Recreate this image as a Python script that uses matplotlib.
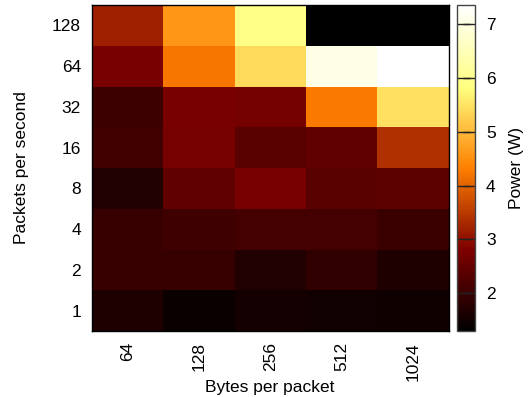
import numpy as np
import matplotlib
matplotlib.use("Agg")
import matplotlib.pyplot as plt

plt.rcParams['font.family'] = ['Liberation Sans', 'DejaVu Sans']

bytes_per_packet = ["64", "128", "256", "512", "1024"]
packets_per_second = ["1", "2", "4", "8", "16", "32", "64", "128"]

# power (W), one row per packets/second value, bottom row first
power_1 = [1.66, 1.42, 1.54, 1.49, 1.47]
power_2 = [1.94, 1.96, 1.68, 1.87, 1.66]
power_4 = [1.94, 2.04, 2.11, 2.11, 1.99]
power_8 = [1.68, 2.46, 2.72, 2.37, 2.39]
power_16 = [2.06, 2.70, 2.37, 2.44, 3.38]
power_32 = [2.01, 2.75, 2.68, 4.26, 5.46]
power_64 = [2.75, 4.23, 5.40, 7.05, 7.35]
power_128 = [3.18, 4.59, 5.94, 1.30, 1.30]

power = np.array([power_1, power_2, power_4, power_8,
                  power_16, power_32, power_64, power_128])

fs = 12.5
fig = plt.figure(figsize=(5.28, 3.97), dpi=100)
ax = fig.add_axes([92 / 528, 1 - 331 / 397, 357 / 528, 326 / 397])
cax = fig.add_axes([457 / 528, 1 - 331 / 397, 18 / 528, 326 / 397])

im = ax.imshow(power, cmap="afmhot", origin="lower", aspect="auto",
               interpolation="nearest", vmin=power.min(), vmax=power.max())

ax.set_xticks(range(len(bytes_per_packet)))
ax.set_xticklabels(bytes_per_packet, rotation=90)
ax.set_yticks(range(len(packets_per_second)))
ax.set_yticklabels(packets_per_second)
ax.tick_params(length=0, labelsize=fs, pad=8)
for s in ax.spines.values():
    s.set_linewidth(1.0)

ax.set_ylabel("Packets per second", fontsize=fs)
ax.yaxis.set_label_coords(-0.176, 0.5)
fig.text(270 / 528, 1 - 392 / 397, "Bytes per packet", fontsize=fs,
         ha="center", va="baseline")

cb = fig.colorbar(im, cax=cax)
cb.set_ticks([2, 3, 4, 5, 6, 7])
cb.ax.tick_params(direction="in", length=9, width=1, left=True, right=True,
                  labelsize=fs, pad=8, color="#222222")
cb.outline.set_linewidth(1.0)
cb.outline.set_edgecolor("#444444")
cb.set_label("Power (W)", fontsize=fs)
cb.ax.yaxis.set_label_coords((509 - 457) / 18, 0.5)

fig.savefig("out.png", dpi=100)
